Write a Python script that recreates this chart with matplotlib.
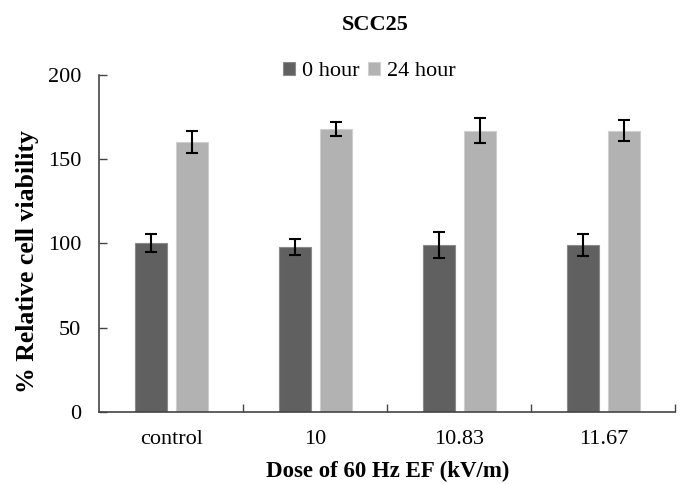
import numpy as np
import matplotlib
matplotlib.use("Agg")
import matplotlib.pyplot as plt

# data
doses = ["control", "10", "10.83", "11.67"]
hour0 = [100, 98, 99, 99]
hour0_err = [5.3, 4.8, 7.6, 6.8]
hour24 = [160, 168, 167, 167]
hour24_err = [6.5, 4.2, 7.5, 6.3]

plt.rcParams["font.family"] = ["Liberation Serif", "DejaVu Serif"]

fig = plt.figure(figsize=(6.89, 4.84), dpi=100)
ax = fig.add_axes([0.1441, 0.1494, 0.836, 0.6956])

x = np.arange(len(doses))
w = 0.22
off = 0.143
err_kw = dict(ecolor="black", elinewidth=1.5, capsize=4.3, capthick=1.5)

ax.bar(x - off, hour0, w, yerr=hour0_err, color="#606060", edgecolor="#8a8a8a",
       linewidth=0.8, label="0 hour", error_kw=err_kw)
ax.bar(x + off, hour24, w, yerr=hour24_err, color="#b2b2b2", edgecolor="#cfcfcf",
       linewidth=0.8, label="24 hour", error_kw=err_kw)

ax.set_xlim(-0.5, len(doses) - 0.5)
ax.set_ylim(0, 200)
ax.set_yticks([0, 50, 100, 150, 200])
ax.set_xticks(x)
ax.set_xticklabels(doses)
ax.set_xticks(np.arange(0.5, len(doses), 1), minor=True)

ax.tick_params(axis="x", which="major", length=0, labelsize=16, pad=13)
ax.tick_params(axis="x", which="minor", direction="in", length=6, width=1, color="#444444")
ax.tick_params(axis="y", direction="in", length=6, width=1, color="#444444", labelsize=16, pad=13)

for s in ["top", "right"]:
    ax.spines[s].set_visible(False)
for s in ["left", "bottom"]:
    ax.spines[s].set_color("#444444")
    ax.spines[s].set_linewidth(1.2)

ax.set_ylabel("% Relative cell viability", fontsize=18.5, fontweight="bold")
ax.yaxis.set_label_coords(-0.104, 0.446)
ax.set_xlabel("Dose of 60 Hz EF (kV/m)", fontsize=16.5, fontweight="bold", labelpad=9)

fig.text(0.544, 0.948, "SCC25", ha="center", va="center", fontsize=16, fontweight="bold")
fig.legend(loc="center", bbox_to_anchor=(0.536, 0.852), ncol=2, frameon=False,
           fontsize=16, handlelength=0.55, handleheight=0.55, handletextpad=0.3,
           columnspacing=0.4)

fig.savefig("out.png", dpi=100)
